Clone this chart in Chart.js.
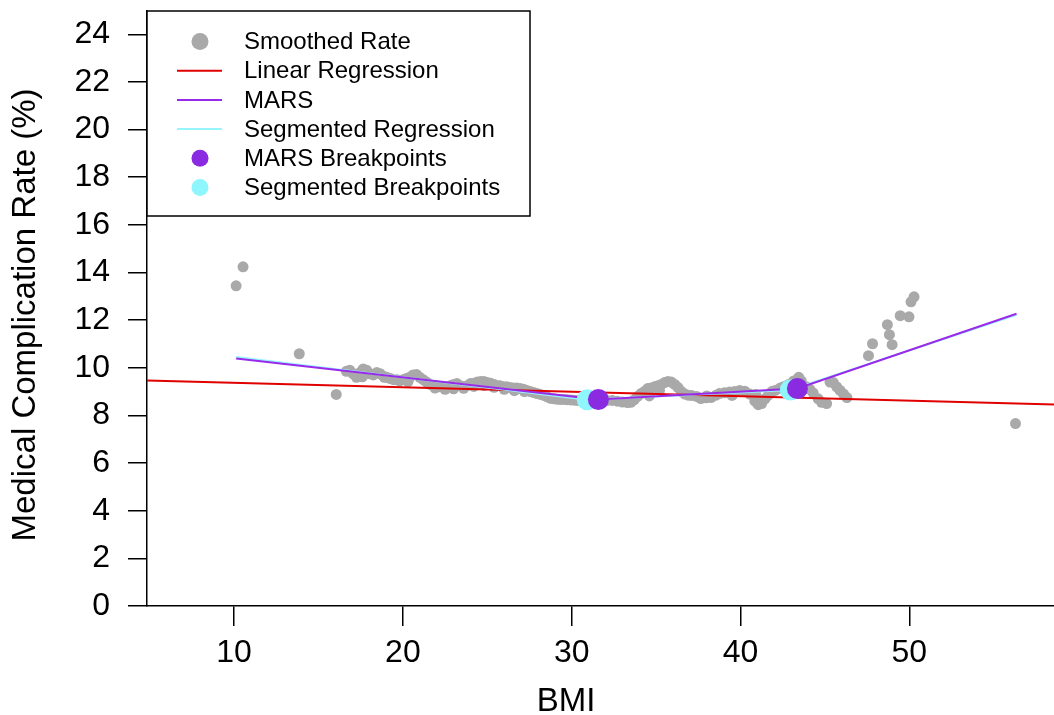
<!DOCTYPE html>
<html>
<head>
<meta charset="utf-8">
<script src="https://cdn.jsdelivr.net/npm/chart.js@4.4.0/dist/chart.umd.min.js"></script>
<style>
  html, body { margin: 0; padding: 0; background: #fff; overflow: hidden; }
  canvas { display: block; }
</style>
</head>
<body>
<canvas id="chart" width="1065" height="715"></canvas>
<script>
// smoothed complication rate by BMI
const smoothBmi = [
  10.12, 10.53, 13.86, 16.05,
  16.65, 16.85, 17.05, 17.25, 17.45, 17.65, 17.85, 18.05, 18.25, 18.45, 18.65, 18.85,
  19.05, 19.25, 19.45, 19.65, 19.8, 20.0, 20.2, 20.4, 20.6, 20.8, 21.0, 21.2, 21.4, 21.6,
  21.8, 22.0, 22.2, 22.4, 22.6, 22.8, 23.0, 23.2, 23.4, 23.6, 23.8, 24.0, 24.2, 24.4,
  24.6, 24.8, 25.0, 25.2, 25.4, 25.6, 25.75, 25.95, 26.15, 26.35, 26.55, 26.75, 26.95,
  27.15, 27.35, 27.55, 27.75, 27.95, 28.15, 28.35, 28.55, 28.75, 28.95, 29.15, 29.35,
  29.55, 29.75, 29.95, 30.15, 30.35, 30.65, 30.95, 31.25, 31.55, 31.8, 32.1, 32.4, 32.7,
  33.0, 33.3, 33.5, 33.7, 33.9, 34.1, 34.3, 34.5, 34.7, 34.9, 35.1, 35.3, 35.5, 35.7,
  35.9, 36.1, 36.3, 36.5, 36.7, 36.9, 37.1, 37.4, 37.65, 37.95, 38.25, 38.55, 38.75,
  39.05, 39.35, 39.65, 39.95, 40.25, 40.55, 40.85, 41.05, 41.25, 41.45, 41.65, 41.85,
  42.05, 42.35, 42.55, 42.85, 43.15, 43.45, 43.6, 43.9, 44.1, 44.3, 44.6, 44.8, 45.1,
  45.3, 45.5, 45.7, 45.9, 46.1, 46.3,
  17.6, 18.9, 20.3, 21.9, 22.5, 23.0, 23.6, 24.2, 24.8, 25.4, 26.0, 26.6, 27.2,
  34.6, 35.2, 38.0, 39.5, 40.9,
  47.58, 47.82, 48.7, 48.82, 48.98, 49.46, 49.98, 50.1, 50.28, 56.29
];
const smoothRate = [
  13.44, 14.24, 10.59, 8.88,
  9.85, 9.9, 9.75, 9.6, 9.8, 9.95, 9.9, 9.75, 9.7, 9.8, 9.75, 9.65,
  9.6, 9.55, 9.5, 9.5, 9.45, 9.5, 9.55, 9.6, 9.7, 9.72, 9.6, 9.5, 9.4, 9.3,
  9.25, 9.25, 9.2, 9.2, 9.17, 9.25, 9.3, 9.34, 9.25, 9.2, 9.25, 9.34, 9.35, 9.4,
  9.42, 9.42, 9.38, 9.35, 9.3, 9.25, 9.25, 9.2, 9.2, 9.17, 9.15, 9.15, 9.13,
  9.1, 9.05, 9.0, 8.96, 8.92, 8.88, 8.84, 8.78, 8.72, 8.7, 8.68, 8.67,
  8.67, 8.66, 8.65, 8.64, 8.63, 8.62, 8.62, 8.62, 8.6, 8.62, 8.63, 8.63, 8.6,
  8.56, 8.54, 8.55, 8.65, 8.8, 8.92, 9.0, 9.13, 9.15, 9.2, 9.25, 9.3, 9.38, 9.42,
  9.4, 9.3, 9.17, 9.0, 8.9, 8.85, 8.84, 8.8, 8.71, 8.74, 8.75, 8.85, 8.92,
  8.95, 8.98, 9.0, 9.05, 9.02, 8.9, 8.6, 8.45, 8.5, 8.7, 8.85, 9.0,
  9.05, 9.15, 9.2, 9.3, 9.45, 9.6, 9.45, 9.2, 9.1, 8.95, 8.7, 8.55, 8.5,
  9.4, 9.38, 9.2, 9.05, 8.9, 8.75,
  9.62, 9.6, 9.42, 9.15, 9.1, 9.12, 9.14, 9.22, 9.26, 9.18, 9.1, 9.04, 9.0,
  8.82, 9.05, 8.82, 8.84, 8.88,
  10.51, 11.01, 11.81, 11.39, 10.97, 12.19, 12.14, 12.77, 12.98, 7.66
];

const linearBmi = [4.84, 58.6];
const linearRate = [9.47, 8.46];

const marsBmi = [10.12, 31.58, 43.37, 56.35];
const marsRate = [10.39, 8.67, 9.13, 12.27];

const segBmi = [10.12, 30.92, 42.95, 56.35];
const segRate = [10.45, 8.66, 9.07, 12.22];

const marsBreakBmi = [31.58, 43.37];
const marsBreakRate = [8.67, 9.13];

const segBreakBmi = [30.92, 42.95];
const segBreakRate = [8.66, 9.07];

const xTicks = [10, 20, 30, 40, 50];
const yTicks = [0, 2, 4, 6, 8, 10, 12, 14, 16, 18, 20, 22, 24];

const xTitle = 'BMI';
const yTitle = 'Medical Complication Rate (%)';

const FONT = "'Liberation Sans', Arial, Helvetica, sans-serif";

function pts(xs, ys) {
  return xs.map((x, i) => ({ x: x, y: ys[i] }));
}

// axis titles and the boxed legend in the top-left corner
const decorations = {
  id: 'decorations',
  afterDraw(chart) {
    const ctx = chart.ctx;
    const left = chart.chartArea.left;
    ctx.save();

    ctx.fillStyle = '#000';
    ctx.font = '33px ' + FONT;
    ctx.textAlign = 'center';
    ctx.textBaseline = 'middle';
    ctx.fillText(xTitle, 566, 702);
    ctx.save();
    ctx.translate(26, 315);
    ctx.rotate(-Math.PI / 2);
    ctx.fillText(yTitle, 0, 0);
    ctx.restore();

    const top = 11, w = 383, h = 205;
    ctx.fillStyle = '#fff';
    ctx.fillRect(left, top, w, h);
    ctx.strokeStyle = '#000';
    ctx.lineWidth = 1.5;
    ctx.strokeRect(left, top, w, h);
    ctx.font = '24px ' + FONT;
    ctx.textAlign = 'left';
    chart.data.datasets.forEach((ds, i) => {
      const y = top + 30.5 + i * 29.2;
      if (ds.showLine) {
        ctx.strokeStyle = ds.borderColor;
        ctx.lineWidth = 2;
        ctx.beginPath();
        ctx.moveTo(left + 30, y);
        ctx.lineTo(left + 75, y);
        ctx.stroke();
      } else {
        ctx.fillStyle = ds.backgroundColor;
        ctx.beginPath();
        ctx.arc(left + 53, y, 8.5, 0, Math.PI * 2);
        ctx.fill();
      }
      ctx.fillStyle = '#000';
      ctx.fillText(ds.label, left + 97, y + 1);
    });
    ctx.restore();
  }
};

new Chart(document.getElementById('chart').getContext('2d'), {
  type: 'scatter',
  data: {
    datasets: [
      {
        label: 'Smoothed Rate',
        data: pts(smoothBmi, smoothRate),
        backgroundColor: '#a9a9a9',
        borderWidth: 0,
        pointRadius: 5.5,
        order: 6
      },
      {
        label: 'Linear Regression',
        data: pts(linearBmi, linearRate),
        showLine: true,
        borderColor: '#e00000',
        borderWidth: 2,
        pointRadius: 0,
        order: 5
      },
      {
        label: 'MARS',
        data: pts(marsBmi, marsRate),
        showLine: true,
        borderColor: '#9a2aea',
        borderWidth: 2,
        pointRadius: 0,
        order: 3
      },
      {
        label: 'Segmented Regression',
        data: pts(segBmi, segRate),
        showLine: true,
        borderColor: '#98f5ff',
        borderWidth: 2,
        pointRadius: 0,
        order: 4
      },
      {
        label: 'MARS Breakpoints',
        data: pts(marsBreakBmi, marsBreakRate),
        backgroundColor: '#8a2be2',
        borderWidth: 0,
        pointRadius: 10.5,
        order: 1
      },
      {
        label: 'Segmented Breakpoints',
        data: pts(segBreakBmi, segBreakRate),
        backgroundColor: '#8ef6fc',
        borderWidth: 0,
        pointRadius: 10.5,
        order: 2
      }
    ]
  },
  options: {
    responsive: false,
    animation: false,
    layout: { padding: { top: 9, right: 0, left: 0, bottom: 0 } },
    plugins: {
      legend: { display: false },
      tooltip: { enabled: false }
    },
    scales: {
      x: {
        type: 'linear',
        min: 4.84,
        max: 58.6,
        afterBuildTicks: s => { s.ticks = xTicks.map(v => ({ value: v })); },
        afterFit: s => {
          s.height = 109;
          s.paddingLeft = 0;
          s.paddingRight = 0;
        },
        border: { display: true, color: '#000', width: 1.5 },
        grid: { drawOnChartArea: false, drawTicks: true, tickLength: 20, color: '#000', lineWidth: 1.5 },
        ticks: { color: '#000', padding: 8, font: { family: FONT, size: 32 }, maxRotation: 0 }
      },
      y: {
        type: 'linear',
        min: 0,
        max: 25,
        afterBuildTicks: s => { s.ticks = yTicks.map(v => ({ value: v })); },
        afterFit: s => {
          s.width = 147;
          s.paddingTop = 0;
          s.paddingBottom = 0;
        },
        border: { display: true, color: '#000', width: 1.5 },
        grid: { drawOnChartArea: false, drawTicks: true, tickLength: 19, color: '#000', lineWidth: 1.5 },
        ticks: { color: '#000', padding: 18, font: { family: FONT, size: 32 } }
      }
    }
  },
  plugins: [decorations]
});
</script>
</body>
</html>
